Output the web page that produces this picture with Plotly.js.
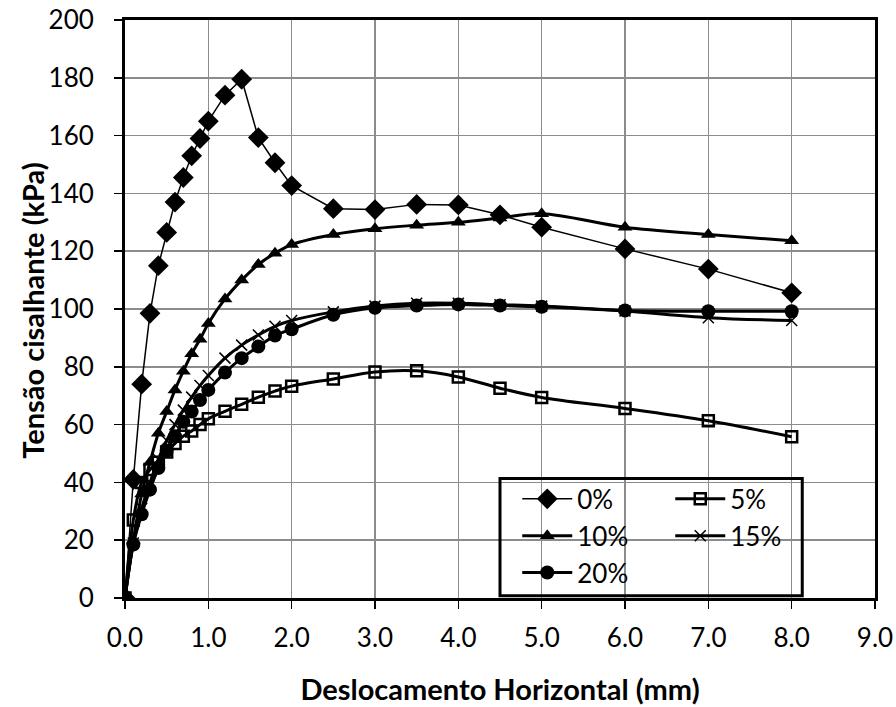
<!DOCTYPE html>
<html>
<head>
<meta charset="utf-8">
<script src="https://cdn.plot.ly/plotly-3.0.1.min.js"></script>
<style>
  html, body { margin: 0; padding: 0; background: #ffffff; }
  #chart { width: 896px; height: 707px; }
</style>
</head>
<body>
<div id="chart"></div>
<script>
// Horizontal displacement (mm)
const deslocamento = [0, 0.1, 0.2, 0.3, 0.4, 0.5, 0.6, 0.7, 0.8, 0.9, 1.0, 1.2, 1.4, 1.6, 1.8, 2.0, 2.5, 3.0, 3.5, 4.0, 4.5, 5.0, 6.0, 7.0, 8.0];

// Shear stress (kPa) per series
const serie0  = [0, 41, 74, 98.5, 115, 126.5, 137, 145.5, 153, 159, 165, 174, 179.5, 159.3, 150.6, 142.7, 134.7, 134.4, 136.2, 136, 132.6, 128.3, 120.8, 113.8, 105.6];
const serie5  = [0, 27, 40, 44.5, 47, 50.5, 53.5, 56, 57.8, 60, 62, 64.6, 67, 69.5, 71.6, 73.3, 75.8, 78.2, 78.6, 76.5, 72.6, 69.4, 65.6, 61.3, 55.8];
const serie10 = [0, 20, 36, 47, 57, 64.5, 72, 78.5, 84.5, 89.5, 95, 103.5, 110, 115.4, 119.3, 122.3, 125.8, 127.8, 129, 130, 131.5, 133, 128.3, 125.8, 123.6];
const serie15 = [0, 19, 31, 40, 48, 54.5, 60, 65, 69.5, 73.5, 77, 83, 87.5, 91, 94, 96, 99, 101, 102, 102, 101.5, 101, 99.3, 97, 96];
const serie20 = [0, 18.5, 29, 37.5, 45, 51, 56, 61, 64.5, 68.5, 72, 78, 83, 87, 90.8, 93, 98, 100.4, 101.2, 101.6, 101.2, 100.8, 99.5, 99.2, 99.2];

const nomes = ['0%', '5%', '10%', '15%', '20%'];
const xTicks = [0, 1, 2, 3, 4, 5, 6, 7, 8, 9];
const xTickLabels = ['0.0', '1.0', '2.0', '3.0', '4.0', '5.0', '6.0', '7.0', '8.0', '9.0'];
const yTicks = [0, 20, 40, 60, 80, 100, 120, 140, 160, 180, 200];
const tituloX = 'Deslocamento Horizontal (mm)';
const tituloY = 'Tensão cisalhante (kPa)';

const FONT = 'Lato, "Liberation Sans", sans-serif';

const traces = [
  {
    x: deslocamento, y: serie0, name: nomes[0], type: 'scatter', mode: 'lines+markers',
    line: { color: '#000', width: 1.5 },
    marker: { symbol: 'diamond', size: 16, color: '#000' },
    legend: 'legend'
  },
  {
    x: deslocamento, y: serie5, name: nomes[1], type: 'scatter', mode: 'lines+markers',
    line: { color: '#000', width: 3, shape: 'spline' },
    marker: { symbol: 'square-open', size: 11, color: '#000', line: { width: 2.5, color: '#000' } },
    legend: 'legend2'
  },
  {
    x: deslocamento, y: serie10, name: nomes[2], type: 'scatter', mode: 'lines+markers',
    line: { color: '#000', width: 3, shape: 'spline' },
    marker: { symbol: 'triangle-up', size: 13, color: '#000' },
    legend: 'legend'
  },
  {
    x: deslocamento, y: serie15, name: nomes[3], type: 'scatter', mode: 'lines+markers',
    line: { color: '#000', width: 3, shape: 'spline' },
    marker: { symbol: 'x-thin-open', size: 11, color: '#000', line: { width: 1.5, color: '#000' } },
    legend: 'legend2'
  },
  {
    x: deslocamento, y: serie20, name: nomes[4], type: 'scatter', mode: 'lines+markers',
    line: { color: '#000', width: 3, shape: 'spline' },
    marker: { symbol: 'circle', size: 14, color: '#000' },
    legend: 'legend'
  }
];

const legendCommon = {
  bgcolor: 'rgba(0,0,0,0)', borderwidth: 0,
  font: { family: FONT, size: 26, color: '#000' },
  itemwidth: 50, tracegroupgap: 3, traceorder: 'normal',
  xanchor: 'left', yanchor: 'top'
};

const layout = {
  width: 896, height: 707,
  paper_bgcolor: '#fff', plot_bgcolor: '#fff',
  margin: { l: 125, r: 21, t: 20, b: 108.5 },
  showlegend: true,
  font: { family: FONT, size: 26, color: '#000' },
  xaxis: {
    range: [0, 9], tickvals: xTicks, ticktext: xTickLabels,
    showgrid: true, gridcolor: '#8c8c8c', gridwidth: 1.5,
    showline: true, linecolor: '#000', linewidth: 3, mirror: true,
    ticks: 'outside', ticklen: 8, tickwidth: 1.5, tickcolor: '#000',
    ticklabelstandoff: 7,
    zeroline: false,
    tickfont: { family: FONT, size: 26, color: '#000' },
    title: { text: '<b>' + tituloX + '</b>', font: { family: FONT, size: 29, color: '#000' }, standoff: 28 }
  },
  yaxis: {
    range: [0, 200], tickvals: yTicks,
    showgrid: true, gridcolor: '#8c8c8c', gridwidth: 1.5,
    showline: true, linecolor: '#000', linewidth: 3, mirror: true,
    ticks: 'outside', ticklen: 8, tickwidth: 1.5, tickcolor: '#000',
    ticklabelstandoff: 15,
    zeroline: false,
    tickfont: { family: FONT, size: 26, color: '#000' }
  },
  annotations: [
    { text: '<b>' + tituloY + '</b>', xref: 'paper', yref: 'paper',
      x: -0.1227, y: 0.4987, xanchor: 'center', yanchor: 'middle', textangle: -90,
      showarrow: false, font: { family: FONT, size: 29, color: '#000' } }
  ],
  legend: Object.assign({}, legendCommon, { x: 0.523, y: 0.212 }),
  legend2: Object.assign({}, legendCommon, { x: 0.727, y: 0.212 }),
  shapes: [
    { type: 'rect', xref: 'paper', yref: 'paper', x0: 0.5, x1: 0.903, y0: 0.004, y1: 0.2066,
      line: { color: '#000', width: 3 }, fillcolor: 'rgba(0,0,0,0)', layer: 'above' }
  ]
};

Plotly.newPlot('chart', traces, layout, { displayModeBar: false, staticPlot: true });
</script>
</body>
</html>
